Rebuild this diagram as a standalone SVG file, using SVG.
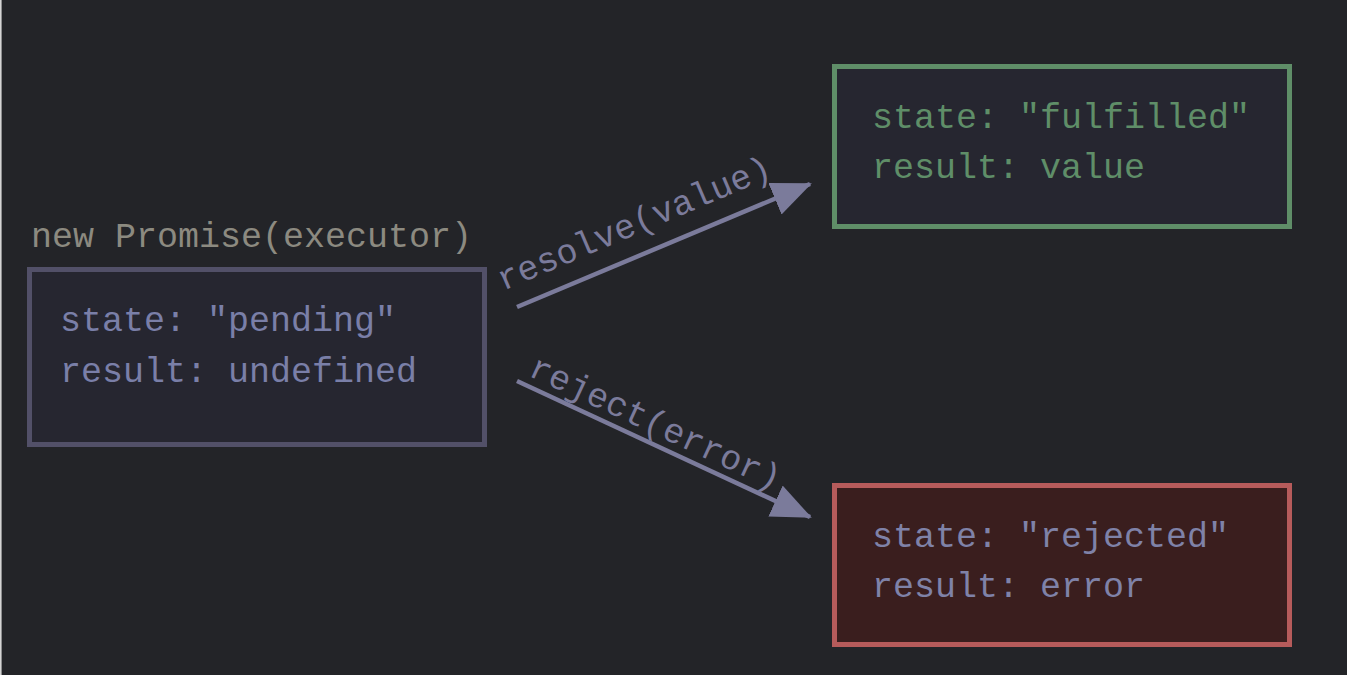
<svg xmlns="http://www.w3.org/2000/svg" width="1347" height="675" viewBox="0 0 1347 675">
<style>
text{font-family:"Liberation Mono","DejaVu Sans Mono",monospace;font-size:35px}
.box{stroke-width:5}
.conn{stroke:#7b7b9b;stroke-width:4.5;fill:none}
.lbl{fill:#7b7b9b;font-size:35px}
</style>
<defs>
<marker id="ah" markerUnits="userSpaceOnUse" markerWidth="40" markerHeight="36" refX="38" refY="17" orient="auto">
<path d="M0,0 L40,17 L0,34 Z" fill="#7b7b9b"/>
</marker>
</defs>
<rect width="1347" height="675" fill="#232428"/>
<rect x="0" y="0" width="1.6" height="675" fill="#d4d4d4"/>
<g id="pending">
<text x="31" y="247" fill="#8c8a80">new Promise(executor)</text>
<rect class="box" x="29.5" y="269.5" width="455" height="175" fill="#262630" stroke="#525068"/>
<text x="60" y="331" fill="#7a7fa8">state: "pending"</text>
<text x="60" y="382" fill="#7a7fa8">result: undefined</text>
</g>
<g id="fulfilled">
<rect class="box" x="834.5" y="66.5" width="455" height="160" fill="#262630" stroke="#5f8e68"/>
<text x="872" y="128" fill="#5f8e68">state: "fulfilled"</text>
<text x="872" y="178" fill="#5f8e68">result: value</text>
</g>
<g id="rejected">
<rect class="box" x="834.5" y="485.5" width="455" height="159" fill="#3a1e1e" stroke="#b65b5b"/>
<text x="872" y="547" fill="#7f82a8">state: "rejected"</text>
<text x="872" y="597" fill="#7f82a8">result: error</text>
</g>
<g id="connectors">
<line class="conn" x1="517" y1="307" x2="810" y2="184" marker-end="url(#ah)"/>
<line class="conn" x1="517" y1="381" x2="810" y2="517" marker-end="url(#ah)"/>
<text class="lbl" transform="translate(503,291) rotate(-23)">resolve(value)</text>
<text class="lbl" transform="translate(527,375) rotate(25)">reject(error)</text>
</g>
</svg>
